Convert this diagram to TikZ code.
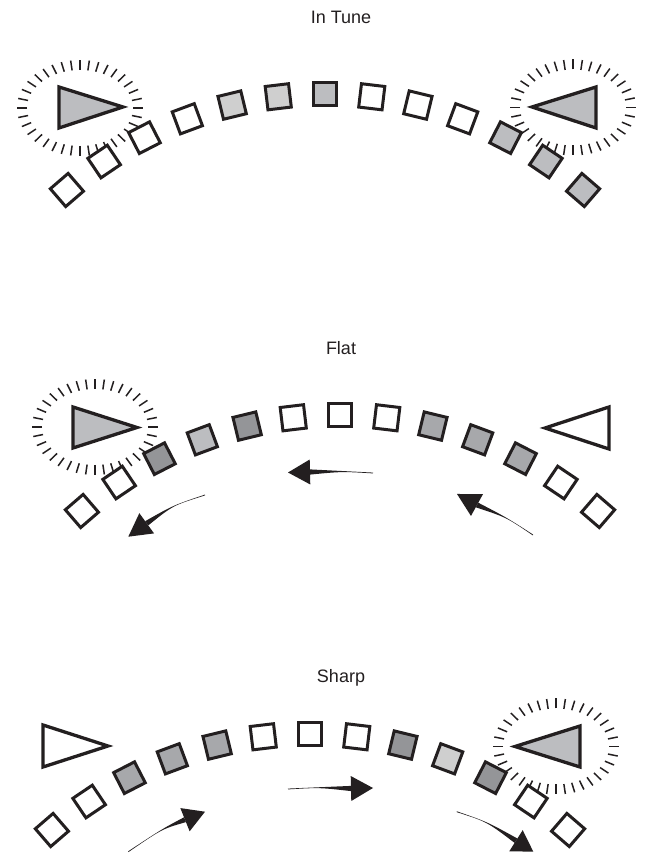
\documentclass[tikz,border=0pt]{standalone}
\usepackage{fontspec}
\setmainfont{Liberation Sans}
\usetikzlibrary{calc}
\definecolor{ink}{HTML}{231F20}
\definecolor{gA}{HTML}{CFCFCF}
\definecolor{gB}{HTML}{BCBDC0}
\definecolor{gC}{HTML}{A7A8AB}
\definecolor{gD}{HTML}{949598}
\newcommand\taperarrow[4]{%
  \fill[ink] ($(#1)!0.4pt!90:(#2)$) .. controls (#2) .. ($(#3)!2.6pt!90:(#4)$) -- ($(#3)!2.6pt!-90:(#4)$) .. controls (#2) .. ($(#1)!0.4pt!-90:(#2)$) -- cycle;
  \fill[ink] (#4) -- ($(#3)!12.5pt!90:(#4)$) -- ($(#3)!12.5pt!-90:(#4)$) -- cycle;}
\newcommand\tickring[1]{%
  \foreach \k in {0,...,35}{
    \pgfmathsetmacro\tt{\k*10+4.25*sin(2*\k*10)}
    \draw[tickmark] ($(#1)+({53*cos(\tt)},{38*sin(\tt)})$) -- ($(#1)+({63*cos(\tt)},{48*sin(\tt)})$);}}
\begin{document}
\begin{tikzpicture}[x=1pt,y=1pt,
  sqr/.style={draw=ink, line width=3pt, minimum size=23.5pt, inner sep=0pt, rectangle, miter limit=10},
  tri/.style={draw=ink, line width=3.3pt, line join=miter},
  tickmark/.style={draw=ink, line width=1.5pt},
  title/.style={font=\fontsize{18}{20}\selectfont, anchor=base, text=ink}]
\fill[white] (0,0) rectangle (647,859);
\useasboundingbox (0,0) rectangle (647,859);

% ---------- titles
\node[title] (t1) at (341,835) {In Tune};
\node[title] (t2) at (341,504) {Flat};
\node[title] (t3) at (341,176) {Sharp};

% ---------- ring centres
\coordinate (r1) at (80,751);
\coordinate (r2) at (573,751.5);
\coordinate (r3) at (95,432);
\coordinate (r4) at (556,112.5);
\tickring{r1}
\tickring{r2}
\tickring{r3}
\tickring{r4}

% ---------- panel 1 : In Tune
\foreach \c [count=\i] in {white,white,white,white,gA,gA,gB,white,white,white,gB,gB,gB}{
  \node[sqr, fill=\c, rotate={-(\i-7)*6.8}] (a\i) at ($(325,370)+({90-(\i-7)*6.8}:395)$) {};}
\draw[tri, fill=gB] (59,772) -- (59,731) -- (123,752) -- cycle;
\draw[tri, fill=gB] (596,772) -- (596,731) -- (532,752) -- cycle;

% ---------- panel 2 : Flat
\foreach \c [count=\i] in {white,white,gD,gB,gD,white,white,white,gC,gC,gC,white,white}{
  \node[sqr, fill=\c, rotate={-(\i-7)*6.8}] (b\i) at ($(340,49)+({90-(\i-7)*6.8}:395)$) {};}
\draw[tri, fill=gB] (73,452) -- (73,411) -- (137,431.5) -- cycle;
\draw[tri, fill=white] (609,452) -- (609,410) -- (545,431) -- cycle;

\coordinate (at) at (373,386);   \coordinate (ac) at (342,387.5);
\coordinate (ab) at (310,387);   \coordinate (ap) at (288,386.5);
\taperarrow{at}{ac}{ab}{ap}
\coordinate (bt) at (533,324);   \coordinate (bc) at (506.4,341.6);
\coordinate (bb) at (477,354);   \coordinate (bp) at (457,365);
\taperarrow{bt}{bc}{bb}{bp}
\coordinate (ct) at (205,364);   \coordinate (cc) at (173,353.6);
\coordinate (cb) at (146.7,335.7); \coordinate (cp) at (128.3,322.3);
\taperarrow{ct}{cc}{cb}{cp}

% ---------- panel 3 : Sharp
\foreach \c [count=\i] in {white,white,gC,gC,gC,white,white,white,gD,gA,gD,white,white}{
  \node[sqr, fill=\c, rotate={-(\i-7)*6.8}] (c\i) at ($(310,-270)+({90-(\i-7)*6.8}:395)$) {};}
\draw[tri, fill=white] (43,134) -- (43,92) -- (108,113) -- cycle;
\draw[tri, fill=gB] (580,133) -- (580,92) -- (515,112.5) -- cycle;

\coordinate (dt) at (128.3,7.3);  \coordinate (dc) at (162.2,30.1);
\coordinate (db) at (185,39.3);   \coordinate (dp) at (205,47.3);
\taperarrow{dt}{dc}{db}{dp}
\coordinate (et) at (288,70);     \coordinate (ec) at (319,71.5);
\coordinate (eb) at (351,70.5);   \coordinate (ep) at (373,71);
\taperarrow{et}{ec}{eb}{ep}
\coordinate (ft) at (456.7,47.3); \coordinate (fc) at (486.8,37.3);
\coordinate (fb) at (516,18.3);   \coordinate (fp) at (533.3,7.3);
\taperarrow{ft}{fc}{fb}{fp}
\end{tikzpicture}
\end{document}
